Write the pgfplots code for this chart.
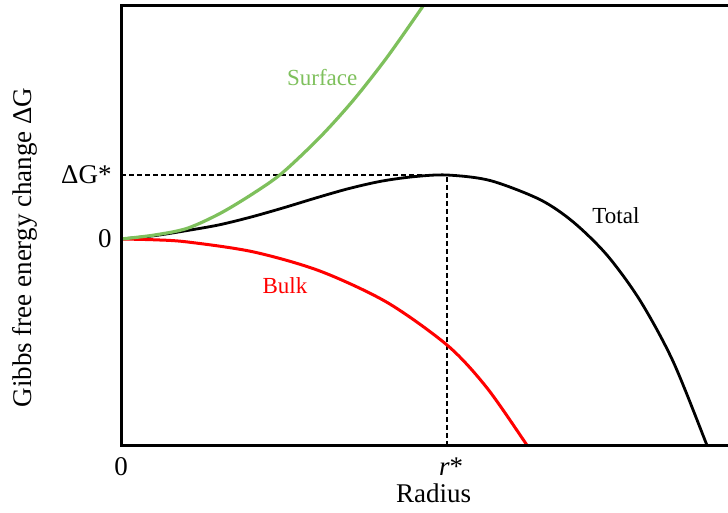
\documentclass[border=0pt]{standalone}
\usepackage{fontspec}
\setmainfont{Liberation Serif}
\usepackage{pgfplots}
\pgfplotsset{compat=1.18}
\definecolor{surfgreen}{RGB}{126,192,92}
\definecolor{bulkred}{RGB}{255,0,0}

\begin{document}
\begin{tikzpicture}
\path[use as bounding box] (0,0) rectangle (364pt,256.5pt);
\begin{axis}[
  at={(60.5pt,33.5pt)}, anchor=south west,
  scale only axis, width=306pt, height=220pt,
  xmin=0, xmax=1.877, ymin=-3.234, ymax=3.641,
  axis on top,
  axis line style={line width=1.5pt},
  xtick={0,1}, xticklabels={0,\hspace{4pt}\textit{r}*},
  ytick={0,1}, yticklabels={0,ΔG*},
  major tick length=0pt,
  tick label style={font=\rmfamily\fontsize{13.5}{16}\selectfont, inner sep=0pt},
  xticklabel shift=5.5pt,
  yticklabel shift=4.5pt,
  xlabel={Radius},
  ylabel={Gibbs free energy change ΔG},
  label style={font=\rmfamily\fontsize{13.5}{16}\selectfont},
  xlabel style={at={(axis description cs:0.511,-0.108)}, anchor=center},
  ylabel style={at={(axis description cs:-0.157,0.451)}, anchor=center},
  every axis plot/.append style={smooth},
]
% guide lines to the critical point
\addplot[black, line width=0.75pt, dash pattern=on 2.5pt off 1.5pt, sharp plot]
  coordinates {(0,1) (1,1) (1,-3.234)};

% total free energy change
\addplot[black, line width=1.4pt] coordinates {
  (0,0) (0.1,0.05) (0.2,0.13) (0.3,0.22) (0.4,0.345) (0.5,0.49)
  (0.6,0.645) (0.7,0.79) (0.8,0.905) (0.9,0.975) (1.0,1.0)
  (1.132,0.914) (1.285,0.616) (1.387,0.266) (1.491,-0.254)
  (1.592,-0.961) (1.693,-1.91) (1.798,-3.234) (1.81,-3.40)
};

% bulk term
\addplot[bulkred, line width=1.5pt] coordinates {
  (0,0) (0.101,-0.012) (0.202,-0.045) (0.405,-0.20) (0.610,-0.50)
  (0.816,-0.99) (1.003,-1.67) (1.123,-2.33) (1.245,-3.22) (1.26,-3.34)
};

% surface term
\addplot[surfgreen, line width=1.6pt] coordinates {
  (0,0) (0.1,0.06) (0.202,0.165) (0.304,0.40) (0.405,0.71)
  (0.494,1.03) (0.610,1.59) (0.712,2.165) (0.816,2.84) (0.923,3.615)
  (0.94,3.75)
};

\node[font=\rmfamily\fontsize{11.5}{14}\selectfont, text=surfgreen] at (axis cs:0.617,2.531) {Surface};
\node[font=\rmfamily\fontsize{11.5}{14}\selectfont, text=bulkred] at (axis cs:0.503,-0.734) {Bulk};
\node[font=\rmfamily\fontsize{11.5}{14}\selectfont, text=black] at (axis cs:1.518,0.359) {Total};
\end{axis}
\end{tikzpicture}
\end{document}
